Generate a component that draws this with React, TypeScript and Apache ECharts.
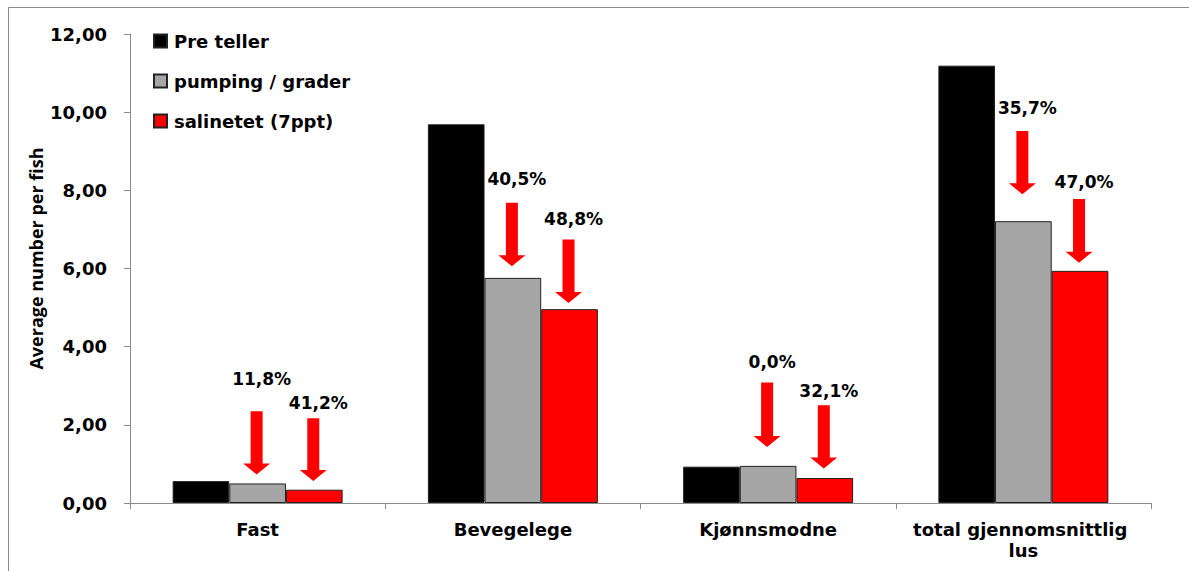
import React, { useEffect, useRef } from "react";
import * as echarts from "echarts";

const categories = ["Fast", "Bevegelege", "Kjønnsmodne", "total gjennomsnittlig lus"];
const seriesNames = ["Pre teller", "pumping / grader", "salinetet (7ppt)"];
const preTeller = [0.56, 9.69, 0.93, 11.19];
const pumping = [0.5, 5.76, 0.95, 7.21];
const salinetet = [0.34, 4.96, 0.64, 5.94];
const yTicks = { min: 0, max: 12, interval: 2 };

// reduction annotations: category index, bar slot (1 = gray, 2 = red)
const arrowCategory = [0, 0, 1, 1, 2, 2, 3, 3];
const arrowSlot = [1, 2, 1, 2, 1, 2, 1, 2];
const arrowTop = [2.35, 2.17, 7.68, 6.74, 3.08, 2.5, 9.52, 7.78];
const arrowTip = [0.73, 0.56, 6.06, 5.12, 1.43, 0.88, 7.9, 6.15];
const labelLevel = [3.18, 2.55, 8.3, 7.26, 3.61, 2.87, 10.1, 8.22];
const reductionLabels = ["11,8%", "41,2%", "40,5%", "48,8%", "0,0%", "32,1%", "35,7%", "47,0%"];

const FONT = "'DejaVu Sans', sans-serif";
const CAT_GAP = 0.334;

export default function App() {
  const ref = useRef<HTMLDivElement>(null);
  useEffect(() => {
    if (!ref.current) return;
    const chart = echarts.init(ref.current, null, { renderer: "svg" });
    const colors = ["#000000", "#A6A6A6", "#FF0000"];
    const values = [preTeller, pumping, salinetet];
    const arrowData = arrowCategory.map((c, i) => [c, arrowSlot[i], arrowTop[i], arrowTip[i], labelLevel[i]]);
    chart.setOption({
      animation: false,
      graphic: [
        {
          type: "rect",
          shape: { x: 8.5, y: 7.5, width: 1400, height: 800 },
          style: { fill: "none", stroke: "#8c8c8c", lineWidth: 1 },
          silent: true,
        },
      ],
      grid: { left: 130, right: 38, top: 34, bottom: 68 },
      legend: {
        data: seriesNames,
        orient: "vertical",
        icon: "rect",
        left: 148,
        top: 26,
        itemWidth: 13,
        itemHeight: 13,
        itemGap: 20,
        textStyle: { fontFamily: FONT, fontWeight: "bold", fontSize: 18, color: "#000", lineHeight: 20, padding: [0, 0, 0, 2] },
      },
      xAxis: {
        type: "category",
        data: categories,
        axisLine: { lineStyle: { color: "#8c8c8c" } },
        axisTick: { show: true, length: 6, lineStyle: { color: "#8c8c8c" } },
        axisLabel: {
          fontFamily: FONT,
          fontWeight: "bold",
          fontSize: 18,
          color: "#000",
          margin: 16,
          width: 240,
          overflow: "break",
          lineHeight: 21,
          interval: 0,
        },
      },
      yAxis: {
        type: "value",
        min: yTicks.min,
        max: yTicks.max,
        interval: yTicks.interval,
        name: "Average number per fish",
        nameLocation: "middle",
        nameGap: 85,
        nameMoveOverlap: false,
        nameTextStyle: {
          fontFamily: "'Open Sans', sans-serif",
          fontWeight: "bold",
          fontSize: 18,
          color: "#000",
          padding: [0, 0, 0, 20],
        },
        axisLine: { show: true, lineStyle: { color: "#8c8c8c" } },
        axisTick: { show: true, length: 6, lineStyle: { color: "#8c8c8c" } },
        splitLine: { show: false },
        axisLabel: {
          fontFamily: FONT,
          fontWeight: "bold",
          fontSize: 18,
          color: "#000",
          margin: 23,
          formatter: (v: number) => v.toFixed(2).replace(".", ","),
        },
      },
      series: [
        ...seriesNames.map((name, i) => ({
          name,
          type: "bar",
          data: values[i],
          barGap: "0%",
          barCategoryGap: CAT_GAP * 100 + "%",
          itemStyle: { color: colors[i], borderColor: "#222", borderWidth: 1 },
        })),
        {
          type: "custom",
          name: "arrows",
          z: 10,
          data: arrowData,
          encode: { x: 0, y: 2 },
          renderItem: (params: any, api: any) => {
            const cat = api.value(0);
            const slot = api.value(1);
            const p0 = api.coord([0, 0]);
            const p1 = api.coord([1, 0]);
            const catW = p1[0] - p0[0];
            const bw = (catW * (1 - CAT_GAP)) / 3;
            const cTop = api.coord([cat, api.value(2)]);
            const cTip = api.coord([cat, api.value(3)]);
            const cLab = api.coord([cat, api.value(4)]);
            const x = cTop[0] + (slot - 1) * bw - 1;
            const yTop = cTop[1];
            const yTip = cTip[1];
            const headH = 11;
            const shaftW = 12;
            const headW = 27;
            const yBase = yTip - headH;
            return {
              type: "group",
              children: [
                {
                  type: "polygon",
                  shape: {
                    points: [
                      [x - shaftW / 2, yTop],
                      [x + shaftW / 2, yTop],
                      [x + shaftW / 2, yBase],
                      [x + headW / 2, yBase],
                      [x, yTip],
                      [x - headW / 2, yBase],
                      [x - shaftW / 2, yBase],
                    ],
                  },
                  style: { fill: "#FF0000" },
                },
                {
                  type: "text",
                  x: x + 5,
                  y: cLab[1],
                  style: {
                    text: reductionLabels[params.dataIndex],
                    fontFamily: FONT,
                    fontWeight: "bold",
                    fontSize: 17,
                    fill: "#000",
                    align: "center",
                    verticalAlign: "middle",
                  },
                },
              ],
            };
          },
        },
      ],
    });
    return () => chart.dispose();
  }, []);
  return (
    <div
      ref={ref}
      style={{ position: "absolute", left: 0, top: 0, width: 1189, height: 571, background: "#fff" }}
    />
  );
}
